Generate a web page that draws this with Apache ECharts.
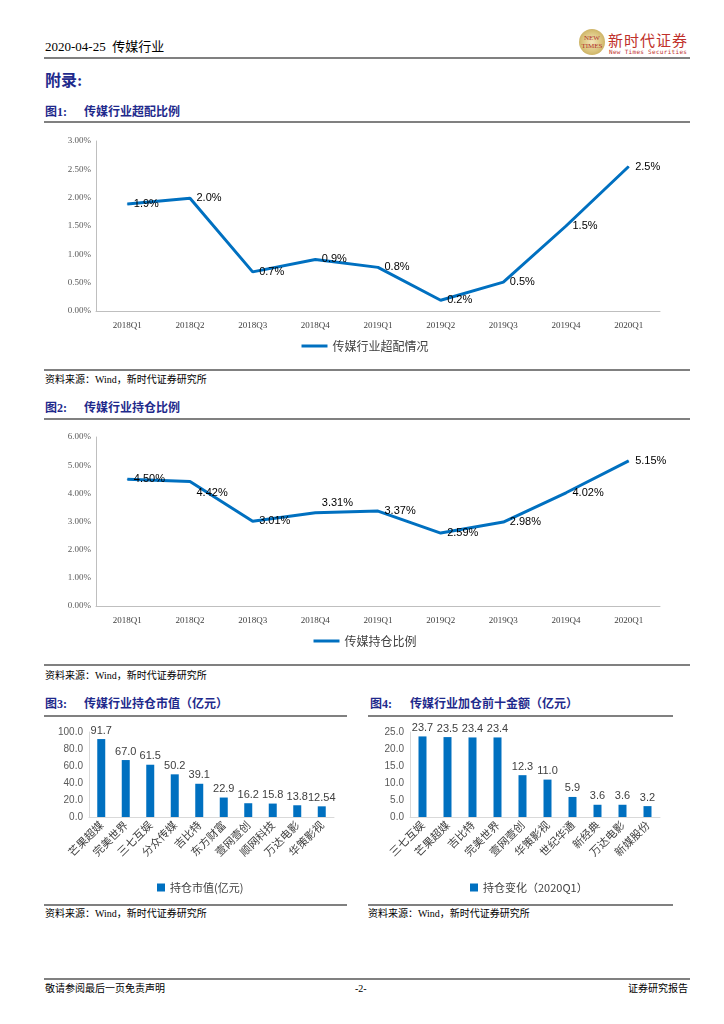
<!DOCTYPE html>
<html><head><meta charset="utf-8">
<script src="https://cdn.jsdelivr.net/npm/echarts@6/dist/echarts.min.js"></script>
<style>
body{margin:0;width:724px;height:1024px;background:#fff;position:relative;overflow:hidden;font-family:"Liberation Serif","Noto Sans CJK SC",serif;color:#000;}
.abs{position:absolute;white-space:nowrap;line-height:1;}
.rule{position:absolute;background:#808080;height:2px;}
.navy{color:#1F2A8C;font-weight:bold;}
.src{font-size:10px;}
.chart{position:absolute;}
</style></head><body>
<!-- header -->
<div class="abs" style="left:45px;top:40px;font-size:13px;">2020-04-25&nbsp;&nbsp;传媒行业</div>
<div class="abs" style="left:579px;top:29px;width:26px;height:26px;border-radius:50%;background:radial-gradient(circle,#f3e6b8 0%,#d9c27a 55%,#b89a45 100%);"></div>
<div class="abs" style="left:577px;top:34px;font-size:7px;color:#b0302a;font-family:'Liberation Serif';line-height:8px;text-align:center;width:30px;">NEW<br>TIMES</div>
<div class="abs" style="left:608px;top:32px;font-size:15px;color:#C0302A;font-family:'Noto Sans CJK SC';letter-spacing:1px;">新时代证券</div>
<div class="abs" style="left:609px;top:49px;font-size:6px;color:#C0302A;font-family:'DejaVu Sans Mono';letter-spacing:0.3px;">New Times Securities</div>
<div class="rule" style="left:44px;top:57px;width:646px;"></div>

<div class="abs navy" style="left:45px;top:73px;font-size:16px;">附录:</div>

<!-- Fig 1 -->
<div class="abs navy" style="left:45px;top:106px;font-size:12px;">图1:</div>
<div class="abs navy" style="left:84px;top:106px;font-size:12px;">传媒行业超配比例</div>
<div class="rule" style="left:44px;top:121px;width:646px;"></div>
<div id="c1" class="chart" style="left:40px;top:125px;width:650px;height:240px;"></div>
<div class="rule" style="left:44px;top:369px;width:646px;"></div>
<div class="abs src" style="left:45px;top:375px;">资料来源：Wind，新时代证券研究所</div>

<!-- Fig 2 -->
<div class="abs navy" style="left:45px;top:402px;font-size:12px;">图2:</div>
<div class="abs navy" style="left:84px;top:402px;font-size:12px;">传媒行业持仓比例</div>
<div class="rule" style="left:44px;top:418px;width:646px;"></div>
<div id="c2" class="chart" style="left:40px;top:420px;width:650px;height:240px;"></div>
<div class="rule" style="left:44px;top:664px;width:646px;"></div>
<div class="abs src" style="left:45px;top:671px;">资料来源：Wind，新时代证券研究所</div>

<!-- Fig 3 -->
<div class="abs navy" style="left:45px;top:698px;font-size:12px;">图3:</div>
<div class="abs navy" style="left:84px;top:698px;font-size:12px;">传媒行业持仓市值（亿元）</div>
<div class="rule" style="left:44px;top:715px;width:303px;"></div>
<div id="c3" class="chart" style="left:30px;top:720px;width:320px;height:180px;"></div>
<div class="rule" style="left:44px;top:904px;width:303px;"></div>
<div class="abs src" style="left:45px;top:909px;">资料来源：Wind，新时代证券研究所</div>

<!-- Fig 4 -->
<div class="abs navy" style="left:370px;top:698px;font-size:12px;">图4:</div>
<div class="abs navy" style="left:410px;top:698px;font-size:12px;">传媒行业加仓前十金额（亿元）</div>
<div class="rule" style="left:368px;top:715px;width:305px;"></div>
<div id="c4" class="chart" style="left:360px;top:720px;width:330px;height:180px;"></div>
<div class="rule" style="left:368px;top:904px;width:305px;"></div>
<div class="abs src" style="left:368px;top:909px;">资料来源：Wind，新时代证券研究所</div>

<!-- footer -->
<div class="rule" style="left:44px;top:978px;width:646px;"></div>
<div class="abs" style="left:45px;top:984px;font-size:10px;">敬请参阅最后一页免责声明</div>
<div class="abs" style="left:355px;top:984px;font-size:10px;">-2-</div>
<div class="abs" style="left:628px;top:984px;font-size:10px;">证券研究报告</div>

<script>
// ---- data ----
var quarters = ['2018Q1','2018Q2','2018Q3','2018Q4','2019Q1','2019Q2','2019Q3','2019Q4','2020Q1'];
var overweightPct = [1.89, 1.99, 0.69, 0.91, 0.77, 0.19, 0.51, 1.50, 2.55];
var overweightLabels = ['1.9%','2.0%','0.7%','0.9%','0.8%','0.2%','0.5%','1.5%','2.5%'];
var holdingPct = [4.50, 4.42, 3.01, 3.31, 3.37, 2.59, 2.98, 4.02, 5.15];
var holdingLabels = ['4.50%','4.42%','3.01%','3.31%','3.37%','2.59%','2.98%','4.02%','5.15%'];
var fig3Names = ['芒果超媒','完美世界','三七互娱','分众传媒','吉比特','东方财富','壹网壹创','顺网科技','万达电影','华策影视'];
var fig3Values = [91.7, 67.0, 61.5, 50.2, 39.1, 22.9, 16.2, 15.8, 13.8, 12.54];
var fig4Names = ['三七互娱','芒果超媒','吉比特','完美世界','壹网壹创','华策影视','世纪华通','新经典','万达电影','新媒股份'];
var fig4Values = [23.7, 23.5, 23.4, 23.4, 12.3, 11.0, 5.9, 3.6, 3.6, 3.2];

var BLUE = '#0070C0';
var AXIS = '#BFBFBF';

function lineOption(values, labels, yMax, yInt, name, gridTop, gridH, labelShift) {
  var data = values.map(function (v, i) {
    var item = { value: v };
    if (labelShift && labelShift[i]) item.label = { offset: [0, labelShift[i]] };
    return item;
  });
  return {
    animation: false,
    grid: { left: 56, top: gridTop, width: 564, height: gridH },
    legend: {
      bottom: 8, left: 'center', icon: 'rect', itemWidth: 26, itemHeight: 3, itemGap: 4,
      textStyle: { fontFamily: 'Noto Sans CJK SC', fontSize: 12, color: '#404040' },
      data: [name]
    },
    xAxis: {
      type: 'category', data: quarters, boundaryGap: true,
      axisLine: { lineStyle: { color: AXIS } }, axisTick: { show: false },
      axisLabel: { margin: 10, fontSize: 9, fontFamily: 'Liberation Serif', color: '#404040' }
    },
    yAxis: {
      type: 'value', min: 0, max: yMax, interval: yInt,
      axisLine: { show: true, lineStyle: { color: AXIS } }, splitLine: { show: false },
      axisLabel: { margin: 5, fontSize: 9, fontFamily: 'Liberation Serif', color: '#595959',
        formatter: function (v) { return v.toFixed(2) + '%'; } }
    },
    series: [{
      name: name, type: 'line', data: data, showSymbol: true, symbol: 'circle', symbolSize: 1,
      lineStyle: { color: BLUE, width: 3 }, itemStyle: { color: BLUE },
      label: { show: true, position: 'right', distance: 6, fontSize: 11, fontFamily: 'Liberation Sans', color: '#000',
        formatter: function (p) { return labels[p.dataIndex]; } }
    }]
  };
}

function barOption(names, values, yMax, yInt, name, gridLeft, gridW, legendLeft) {
  return {
    animation: false,
    grid: { left: gridLeft, top: 12, width: gridW, height: 85 },
    legend: {
      top: 157, left: legendLeft, icon: 'rect', itemWidth: 8, itemHeight: 8, itemGap: 4,
      textStyle: { fontFamily: 'Noto Sans CJK SC', fontSize: 11, color: '#404040' },
      data: [name]
    },
    xAxis: {
      type: 'category', data: names,
      axisLine: { lineStyle: { color: '#D9D9D9' } }, axisTick: { show: false },
      axisLabel: { interval: 0, rotate: 45, margin: 6, fontSize: 11, fontFamily: 'Noto Sans CJK SC', color: '#404040' }
    },
    yAxis: {
      type: 'value', min: 0, max: yMax, interval: yInt,
      axisLine: { show: true, lineStyle: { color: '#D9D9D9' } }, splitLine: { show: false },
      axisLabel: { margin: 6, fontSize: 10, fontFamily: 'Liberation Sans', color: '#595959',
        formatter: function (v) { return v.toFixed(1); } }
    },
    series: [{
      name: name, type: 'bar', data: values, barWidth: 8,
      itemStyle: { color: BLUE },
      label: { show: true, position: 'top', distance: 3, fontSize: 11, fontFamily: 'Liberation Sans', color: '#404040',
        formatter: function (p) { var v = p.value; return (Math.round(v * 10) === v * 10) ? v.toFixed(1) : String(v); } }
    }]
  };
}

echarts.init(document.getElementById('c1')).setOption(
  lineOption(overweightPct, overweightLabels, 3, 0.5, '传媒行业超配情况', 16, 170, null));
echarts.init(document.getElementById('c2')).setOption(
  lineOption(holdingPct, holdingLabels, 6, 1, '传媒持仓比例', 17, 169, [0, 11, 0, -10, 0, 0, 0, 0, 0]));
echarts.init(document.getElementById('c3')).setOption(
  barOption(fig3Names, fig3Values, 100, 20, '持仓市值(亿元)', 59, 245, 122));
echarts.init(document.getElementById('c4')).setOption(
  barOption(fig4Names, fig4Values, 25, 5, '持仓变化（2020Q1）', 50, 250, 105));
</script>
</body></html>
